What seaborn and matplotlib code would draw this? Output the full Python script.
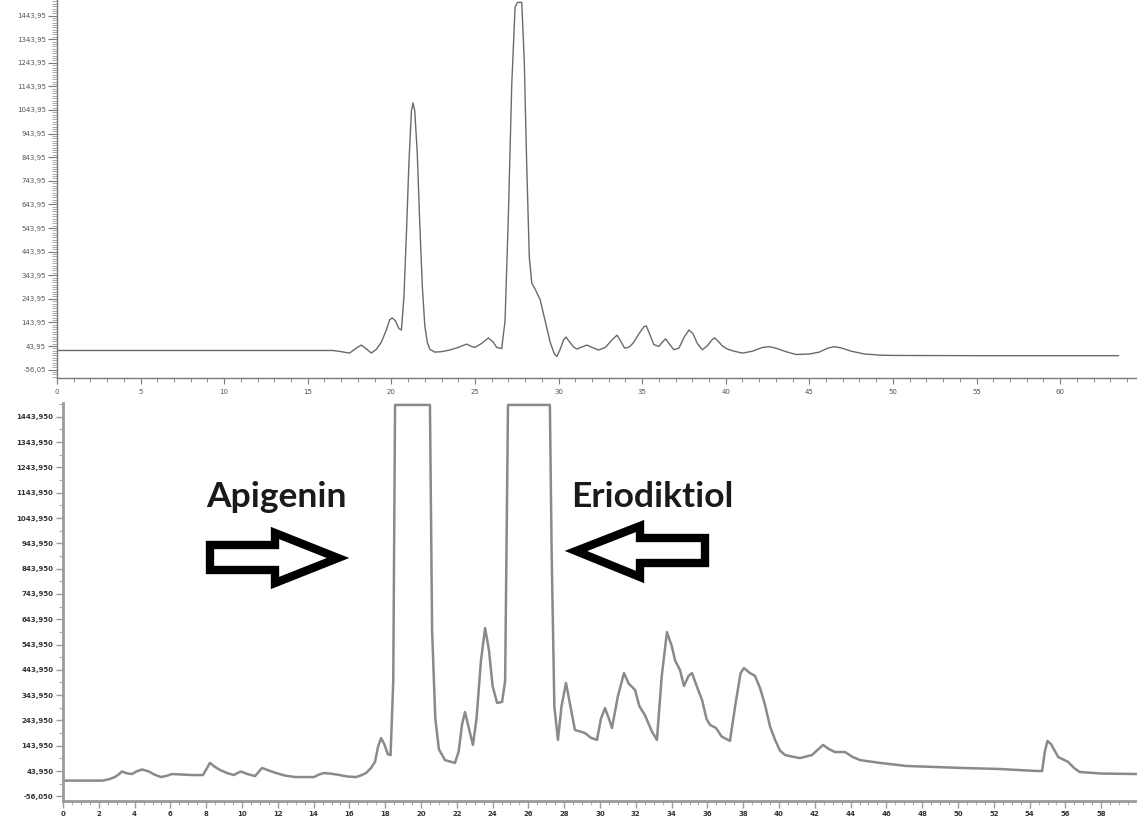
import numpy as np
import matplotlib
matplotlib.use("Agg")
import matplotlib.pyplot as plt
from matplotlib.patches import Polygon
from matplotlib.ticker import FixedLocator, MultipleLocator
import seaborn as sns

# ---- Standard chromatogram (upper panel): retention time [min] vs signal ----
std_time = [0.0, 8.0, 16.5, 17.0, 17.5, 17.9, 18.2, 18.5, 18.8, 19.1, 19.4,
            19.7, 19.9, 20.05, 20.25, 20.45, 20.6, 20.75, 20.9, 21.05, 21.2,
            21.3, 21.4, 21.55, 21.7, 21.85, 22.0, 22.15, 22.3, 22.6, 23.0,
            23.5, 24.0, 24.5, 24.8, 25.0, 25.4, 25.8, 26.1, 26.3, 26.6, 26.8,
            27.0, 27.2, 27.4, 27.55, 27.8, 27.95, 28.1, 28.25, 28.4, 28.6,
            28.9, 29.2, 29.5, 29.75, 29.9, 30.1, 30.3, 30.45, 30.65, 30.9,
            31.1, 31.4, 31.7, 32.0, 32.4, 32.8, 33.2, 33.5, 33.75, 33.95,
            34.15, 34.3, 34.5, 34.8, 35.1, 35.25, 35.45, 35.7, 36.0, 36.2,
            36.4, 36.6, 36.9, 37.2, 37.5, 37.8, 38.05, 38.3, 38.6, 38.9,
            39.2, 39.35, 39.6, 39.8, 40.1, 40.5, 41.0, 41.6, 42.2, 42.6,
            43.0, 43.6, 44.2, 45.0, 45.6, 46.1, 46.5, 46.9, 47.5, 48.3,
            49.3, 50.0, 55.0, 63.5]
std_signal = [25, 25, 25, 20, 14, 35, 48, 32, 14, 30, 60,
              112, 155, 163, 150, 118, 112, 250, 520, 820, 1040,
              1074, 1040, 860, 560, 300, 130, 60, 30, 18, 20,
              27, 38, 52, 42, 38, 55, 78, 60, 38, 33, 150,
              600, 1150, 1480, 1500, 1500, 1250, 800, 420, 310, 285,
              240, 150, 60, 10, 0, 30, 70, 82, 62, 40,
              31, 40, 48, 38, 27, 38, 70, 90, 60, 35,
              38, 44, 60, 95, 125, 129, 95, 50, 42, 60,
              74, 55, 28, 35, 80, 112, 95, 55, 28, 45,
              72, 78, 60, 44, 31, 22, 14, 22, 38, 41,
              35, 20, 8, 10, 18, 35, 41, 36, 22, 10,
              5, 4, 3, 3]

# ---- Sample chromatogram (lower panel) ----
smp_time = [0.0, 2.2, 2.6, 2.9, 3.1, 3.3, 3.55, 3.85, 4.1, 4.41, 4.8, 5.1,
            5.47, 5.8, 6.09, 6.6, 7.2, 7.82, 8.0, 8.21, 8.45, 8.77, 9.2,
            9.55, 9.75, 9.94, 10.3, 10.73, 10.95, 11.12, 11.5, 11.9, 12.4,
            12.96, 14.02, 14.3, 14.58, 15.0, 15.3, 15.9, 16.37, 16.7, 16.93,
            17.2, 17.43, 17.6, 17.77, 17.95, 18.15, 18.3, 18.45, 18.55, 20.5,
            20.62, 20.8, 21.0, 21.34, 21.9, 22.1, 22.3, 22.46, 22.65, 22.9,
            23.1, 23.35, 23.58, 23.8, 24.0, 24.25, 24.53, 24.7, 24.86, 27.2,
            27.3, 27.45, 27.65, 27.85, 28.1, 28.35, 28.6, 28.9, 29.16, 29.5,
            29.83, 30.05, 30.28, 30.5, 30.67, 31.0, 31.34, 31.6, 31.96, 32.2,
            32.51, 32.9, 33.18, 33.45, 33.74, 34.0, 34.2, 34.47, 34.69, 34.95,
            35.14, 35.4, 35.7, 35.95, 36.15, 36.48, 36.8, 37.26, 37.55, 37.85,
            38.04, 38.38, 38.66, 38.95, 39.22, 39.5, 39.78, 40.05, 40.34,
            40.8, 41.17, 41.84, 42.2, 42.46, 42.8, 43.13, 43.69, 44.1, 44.53,
            45.64, 47.1, 50.2, 52.3, 54.4, 54.7, 54.85, 55.0, 55.2, 55.6,
            56.15, 56.5, 56.8, 58.0, 60.0]
smp_signal = [6, 6, 12, 20, 30, 42, 35, 32, 42, 50, 42, 30,
              20, 25, 32, 30, 28, 28, 50, 76, 62, 48, 35,
              28, 36, 42, 32, 24, 42, 56, 46, 36, 26,
              20, 20, 30, 36, 33, 30, 22, 20, 28, 36,
              55, 80, 140, 174, 150, 110, 107, 400, 1491, 1491,
              600, 250, 130, 87, 76, 120, 230, 277, 220, 147,
              250, 480, 609, 520, 380, 313, 317, 400, 1491, 1491,
              900, 300, 167, 300, 392, 300, 206, 200, 194, 175,
              167, 250, 293, 250, 214, 340, 431, 390, 364, 300,
              265, 200, 167, 420, 593, 540, 480, 443, 380, 420,
              431, 380, 325, 250, 226, 214, 180, 163, 300, 430,
              451, 431, 420, 370, 305, 220, 167, 125, 107,
              100, 95, 107, 130, 147, 130, 119, 119, 100, 87,
              76, 64, 56, 52, 44, 44, 120, 163, 150, 99,
              80, 55, 40, 34, 32]

# ---- Axis ticks ----
y_ticks = [-56.05, 43.95, 143.95, 243.95, 343.95, 443.95, 543.95, 643.95,
           743.95, 843.95, 943.95, 1043.95, 1143.95, 1243.95, 1343.95, 1443.95]
std_ylabels = ["-56,05", "43,95", "143,95", "243,95", "343,95", "443,95",
               "543,95", "643,95", "743,95", "843,95", "943,95", "1043,95",
               "1143,95", "1243,95", "1343,95", "1443,95"]
smp_ylabels = ["-56,050", "43,950", "143,950", "243,950", "343,950",
               "443,950", "543,950", "643,950", "743,950", "843,950",
               "943,950", "1043,950", "1143,950", "1243,950", "1343,950",
               "1443,950"]
std_xticks = [0, 5, 10, 15, 20, 25, 30, 35, 40, 45, 50, 55, 60]
smp_xticks = [0, 2, 4, 6, 8, 10, 12, 14, 16, 18, 20, 22, 24, 26, 28, 30,
              32, 34, 36, 38, 40, 42, 44, 46, 48, 50, 52, 54, 56, 58]

sns.set_theme(style="white")
plt.rcParams["font.family"] = ["DejaVu Sans"]

W, H = 1137, 817
fig = plt.figure(figsize=(W / 100, H / 100), dpi=100)
fig.patch.set_facecolor("white")


def px_rect(left, top, right, bottom):
    return [left / W, 1 - bottom / H, (right - left) / W, (bottom - top) / H]


# Upper panel
ax1 = fig.add_axes(px_rect(57, 0, 1137, 378))
sns.lineplot(x=std_time, y=std_signal, ax=ax1, color="#6a6a6a",
             linewidth=1.0, estimator=None, sort=False)
ax1.set_xlim(0, 64.6)
ax1.set_ylim(-91.6, 1510)
ax1.yaxis.set_major_locator(FixedLocator(y_ticks))
ax1.set_yticklabels(std_ylabels)
ax1.yaxis.set_minor_locator(MultipleLocator(10, offset=3.95))
ax1.xaxis.set_major_locator(FixedLocator(std_xticks))
ax1.set_xticklabels([str(v) for v in std_xticks])
ax1.xaxis.set_minor_locator(MultipleLocator(1))
for side in ("top", "right"):
    ax1.spines[side].set_visible(False)
for side in ("left", "bottom"):
    ax1.spines[side].set_color("#7a7a7a")
    ax1.spines[side].set_linewidth(1.0)
ax1.tick_params(axis="y", which="major", direction="out", length=6.5,
                width=0.8, color="#7a7a7a", labelsize=5,
                labelcolor="#555555", pad=1.5, left=True)
ax1.tick_params(axis="x", which="major", direction="out", length=4,
                width=0.8, color="#7a7a7a", labelsize=5,
                labelcolor="#555555", pad=4, bottom=True)
ax1.tick_params(axis="y", which="minor", direction="out", length=3.5,
                width=0.6, color="#9a9a9a", left=True)
ax1.tick_params(axis="x", which="minor", direction="out", length=3,
                width=0.6, color="#7a7a7a", bottom=True)
ax1.set_xlabel("")
ax1.set_ylabel("")

# Lower panel
ax2 = fig.add_axes(px_rect(63, 403, 1137, 801))
sns.lineplot(x=smp_time, y=smp_signal, ax=ax2, color="#8a8a8a",
             linewidth=1.8, estimator=None, sort=False)
ax2.set_xlim(0, 60.0)
ax2.set_ylim(-74.6, 1498.6)
ax2.yaxis.set_major_locator(FixedLocator(y_ticks))
ax2.set_yticklabels(smp_ylabels)
ax2.yaxis.set_minor_locator(MultipleLocator(50, offset=43.95))
ax2.xaxis.set_major_locator(FixedLocator(smp_xticks))
ax2.set_xticklabels([str(v) for v in smp_xticks])
ax2.xaxis.set_minor_locator(MultipleLocator(0.5))
for side in ("top", "right"):
    ax2.spines[side].set_visible(False)
for side in ("left", "bottom"):
    ax2.spines[side].set_color("#9a9a9a")
    ax2.spines[side].set_linewidth(2.0)
ax2.tick_params(axis="both", which="major", direction="out", length=5,
                width=1.0, color="#9a9a9a", labelsize=5,
                labelcolor="#333333", pad=2, left=True, bottom=True)
ax2.tick_params(axis="both", which="minor", direction="out", length=3,
                width=0.8, color="#aaaaaa", left=True, bottom=True)
for lbl in ax2.get_xticklabels() + ax2.get_yticklabels():
    lbl.set_fontweight("bold")
ax2.set_xlabel("")
ax2.set_ylabel("")

# Compound labels
fig.text(206 / W, 1 - 497 / H, "Apigenin", family=["Lato", "DejaVu Sans"],
         fontweight="bold", fontsize=25.5, color="#1a1a1a", va="center", ha="left")
fig.text(571 / W, 1 - 497 / H, "Eriodiktiol", family=["Lato", "DejaVu Sans"],
         fontweight="bold", fontsize=25.5, color="#1a1a1a", va="center", ha="left")


def block_arrow(pts):
    verts = [(x / W, 1 - y / H) for x, y in pts]
    fig.patches.append(Polygon(verts, closed=True, transform=fig.transFigure,
                               facecolor="white", edgecolor="black",
                               linewidth=6, joinstyle="miter", zorder=5))


# Right-pointing arrow towards the apigenin peak
block_arrow([(210, 545), (275, 545), (275, 533), (338, 558),
             (275, 583), (275, 570), (210, 570)])
# Left-pointing arrow towards the eriodictyol peak
block_arrow([(705, 538), (640, 538), (640, 526), (576, 551),
             (640, 577), (640, 563), (705, 563)])

fig.savefig("out.png", dpi=100, facecolor="white")
